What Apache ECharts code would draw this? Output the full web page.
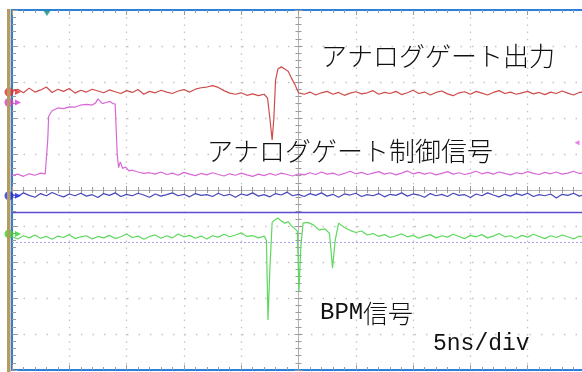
<!DOCTYPE html>
<html><head><meta charset="utf-8">
<script src="https://cdn.jsdelivr.net/npm/echarts@6/dist/echarts.min.js"></script>
<style>html,body{margin:0;padding:0;background:#fff}#c{width:582px;height:372px}</style>
</head><body><div id="c"></div>
<script>
// time in ns (5 ns/div), amplitude in divisions (centre = 0)
const timeRangeNs = [0, 50];
const levelRangeDiv = [-5, 5];
const labels = ['アナログゲート出力', 'アナログゲート制御信号', 'BPM', '信号', '5ns/div'];

const gateOutput = [
 [0,2.74],[0.5,2.80],[1,2.70],[1.5,2.83],[2,2.72],[2.5,2.78],[3,2.86],[3.5,2.71],[4,2.80],[4.5,2.74],
 [5,2.82],[5.5,2.69],[6,2.77],[6.5,2.72],[7,2.80],[7.5,2.75],[8,2.70],[8.5,2.78],[9,2.73],[9.5,2.68],
 [10,2.76],[10.5,2.71],[11,2.79],[11.5,2.66],[12,2.74],[12.5,2.70],[13,2.77],[13.5,2.72],[14,2.68],[14.5,2.75],
 [15,2.79],[15.5,2.72],[16,2.80],[16.5,2.84],[17,2.86],[17.5,2.90],[18,2.85],[18.5,2.76],[19,2.69],[19.5,2.66],
 [20,2.70],[20.5,2.63],[21,2.67],[21.5,2.62],[22,2.66],[22.3,2.55],[22.5,2.0],[22.7,1.39],[22.85,2.0],[23.0,3.05],
 [23.2,3.36],[23.5,3.42],[23.8,3.36],[24.1,3.30],[24.4,3.10],[24.7,2.92],[25.0,2.70],[25.5,2.66],[26,2.72],[26.5,2.64],
 [27,2.70],[27.5,2.74],[28,2.66],[28.5,2.71],[29,2.63],[29.5,2.69],[30,2.73],[30.5,2.67],[31,2.70],[31.5,2.76],
 [32,2.66],[32.5,2.71],[33,2.68],[33.5,2.74],[34,2.65],[34.5,2.70],[35,2.77],[35.5,2.68],[36,2.72],[36.5,2.64],
 [37,2.71],[37.5,2.75],[38,2.67],[38.5,2.62],[39,2.70],[39.5,2.73],[40,2.66],[40.5,2.74],[41,2.69],[41.5,2.64],
 [42,2.71],[42.5,2.76],[43,2.68],[43.5,2.72],[44,2.66],[44.5,2.70],[45,2.74],[45.5,2.67],[46,2.71],[46.5,2.65],
 [47,2.72],[47.5,2.68],[48,2.75],[48.5,2.69],[49,2.64],[49.5,2.71],[50,2.73]
];

const gateControl = [
 [0,0.40],[0.5,0.44],[1,0.38],[1.5,0.45],[2,0.41],[2.5,0.47],[2.9,0.45],[3.05,0.5],[3.12,1.4],[3.2,2.05],
 [3.5,2.20],[4,2.28],[4.5,2.26],[5,2.31],[5.5,2.30],[6,2.36],[6.5,2.38],[7,2.36],[7.3,2.42],[7.5,2.53],
 [7.7,2.46],[7.9,2.40],[8.2,2.43],[8.55,2.46],[8.8,2.40],[9.0,2.39],[9.1,2.38],[9.18,1.0],[9.3,0.62],[9.45,0.78],
 [9.65,0.60],[9.9,0.64],[10.2,0.53],[10.5,0.55],[11,0.50],[11.5,0.46],[12,0.48],[12.5,0.44],[13,0.50],[13.5,0.43],
 [14,0.47],[14.5,0.41],[15,0.49],[15.5,0.44],[16,0.40],[16.5,0.46],[17,0.42],[17.5,0.48],[18,0.43],[18.5,0.39],
 [19,0.45],[19.5,0.41],[20,0.47],[20.5,0.42],[21,0.38],[21.5,0.44],[22,0.40],[22.5,0.46],[23,0.41],[23.5,0.47],
 [24,0.43],[24.5,0.39],[25,0.45],[25.5,0.42],[26,0.48],[26.5,0.43],[27,0.50],[27.5,0.44],[28,0.47],[28.5,0.41],
 [29,0.46],[29.5,0.52],[30,0.45],[30.5,0.49],[31,0.43],[31.5,0.47],[32,0.51],[32.5,0.44],[33,0.48],[33.5,0.42],
 [34,0.47],[34.5,0.53],[35,0.45],[35.5,0.49],[36,0.44],[36.5,0.48],[37,0.42],[37.5,0.46],[38,0.51],[38.5,0.44],
 [39,0.48],[39.5,0.43],[40,0.47],[40.5,0.52],[41,0.45],[41.5,0.49],[42,0.44],[42.5,0.50],[43,0.46],[43.5,0.42],
 [44,0.48],[44.5,0.45],[45,0.51],[45.5,0.46],[46,0.43],[46.5,0.49],[47,0.45],[47.5,0.50],[48,0.44],[48.5,0.47],
 [49,0.52],[49.5,0.46],[50,0.48]
];

const channel3 = [
 [0,-0.12],[0.5,-0.18],[1,-0.08],[1.5,-0.15],[2,-0.20],[2.5,-0.10],[3,-0.16],[3.5,-0.07],[4,-0.14],[4.5,-0.19],
 [5,-0.11],[5.5,-0.16],[6,-0.09],[6.5,-0.17],[7,-0.13],[7.5,-0.21],[8,-0.10],[8.5,-0.15],[9,-0.08],[9.5,-0.18],
 [10,-0.12],[10.5,-0.16],[11,-0.09],[11.5,-0.14],[12,-0.20],[12.5,-0.11],[13,-0.17],[13.5,-0.13],[14,-0.08],[14.5,-0.16],
 [15,-0.12],[15.5,-0.19],[16,-0.10],[16.5,-0.15],[17,-0.13],[17.5,-0.18],[18,-0.09],[18.5,-0.16],[19,-0.12],[19.5,-0.20],
 [20,-0.11],[20.5,-0.15],[21,-0.08],[21.5,-0.17],[22,-0.13],[22.5,-0.19],[23,-0.10],[23.5,-0.14],[24,-0.06],[24.5,-0.16],
 [25,-0.12],[25.5,-0.18],[26,-0.10],[26.5,-0.15],[27,-0.08],[27.5,-0.17],[28,-0.12],[28.5,-0.20],[29,-0.11],[29.5,-0.14],
 [30,-0.09],[30.5,-0.18],[31,-0.13],[31.5,-0.16],[32,-0.10],[32.5,-0.19],[33,-0.12],[33.5,-0.15],[34,-0.08],[34.5,-0.17],
 [35,-0.11],[35.5,-0.14],[36,-0.20],[36.5,-0.10],[37,-0.16],[37.5,-0.12],[38,-0.18],[38.5,-0.09],[39,-0.15],[39.5,-0.13],
 [40,-0.21],[40.5,-0.11],[41,-0.16],[41.5,-0.08],[42,-0.14],[42.5,-0.19],[43,-0.12],[43.5,-0.17],[44,-0.10],[44.5,-0.15],
 [45,-0.09],[45.5,-0.18],[46,-0.13],[46.5,-0.16],[47,-0.11],[47.5,-0.22],[48,-0.12],[48.5,-0.15],[49,-0.09],[49.5,-0.17],
 [50,-0.13]
];

const bpmSignal = [
 [0,-1.30],[0.5,-1.36],[1,-1.27],[1.5,-1.33],[2,-1.25],[2.5,-1.34],[3,-1.29],[3.5,-1.37],[4,-1.28],[4.5,-1.32],
 [5,-1.24],[5.5,-1.35],[6,-1.30],[6.5,-1.27],[7,-1.36],[7.5,-1.29],[8,-1.33],[8.5,-1.26],[9,-1.35],[9.5,-1.30],
 [10,-1.22],[10.5,-1.32],[11,-1.28],[11.5,-1.37],[12,-1.29],[12.5,-1.25],[13,-1.34],[13.5,-1.27],[14,-1.33],[14.5,-1.22],
 [15,-1.30],[15.5,-1.26],[16,-1.34],[16.5,-1.28],[17,-1.36],[17.5,-1.27],[18,-1.31],[18.5,-1.23],[19,-1.30],[19.5,-1.25],
 [20,-1.19],[20.5,-1.29],[21,-1.27],[21.5,-1.33],[22,-1.28],[22.2,-1.40],[22.34,-3.61],[22.5,-2.2],[22.7,-0.9],[22.9,-0.84],
 [23.2,-0.78],[23.5,-0.86],[23.8,-0.92],[24.1,-0.88],[24.4,-1.00],[24.7,-1.08],[24.9,-1.15],[25.04,-2.81],[25.2,-1.6],[25.4,-0.92],
 [25.8,-0.90],[26.3,-0.97],[26.8,-1.11],[27.3,-1.08],[27.7,-1.20],[27.97,-2.17],[28.2,-1.40],[28.5,-0.92],[29,-1.04],[29.5,-1.12],
 [30,-1.18],[30.5,-1.14],[31,-1.25],[31.5,-1.21],[32,-1.29],[32.5,-1.24],[33,-1.32],[33.5,-1.27],[34,-1.22],[34.5,-1.30],
 [35,-1.26],[35.5,-1.34],[36,-1.28],[36.5,-1.24],[37,-1.33],[37.5,-1.27],[38,-1.31],[38.5,-1.23],[39,-1.29],[39.5,-1.35],
 [40,-1.26],[40.5,-1.30],[41,-1.24],[41.5,-1.33],[42,-1.28],[42.5,-1.21],[43,-1.30],[43.5,-1.27],[44,-1.34],[44.5,-1.26],
 [45,-1.31],[45.5,-1.23],[46,-1.29],[46.5,-1.35],[47,-1.27],[47.5,-1.32],[48,-1.25],[48.5,-1.30],[49,-1.36],[49.5,-1.28],
 [50,-1.31]
];

// channel ground markers (left edge) and other scope markers
const channelMarkerLevels = [2.72, 2.43, -0.16, -1.22];
const channelColors = ['#e8282a', '#d836d8', '#1a2ae8', '#26d826'];
const traceColors = ['#cf4c4c', '#d868d8', '#4848b8', '#5ed85e'];
const cursorLevels = [-0.61, -1.44];
const triggerTimeNs = 3.05;
const triggerLevelDiv = 1.31;

const chart = echarts.init(document.getElementById('c'), null, {renderer: 'canvas'});

const tickGray = '#9a9a9a';
const blueEdge = '#2b7fdd';
const JP = '"Noto Sans CJK JP"';

function baseAxis(extra) {
  return Object.assign({
    type: 'value', min: 0, max: 50, interval: 5,
    axisLabel: {show: false},
    splitLine: {show: false},
    minorSplitLine: {show: false},
  }, extra);
}
function baseY(extra) {
  return Object.assign({
    type: 'value', min: -5, max: 5, interval: 1,
    axisLabel: {show: false},
    splitLine: {show: false},
    minorSplitLine: {show: false},
  }, extra);
}

const xAxes = [
  baseAxis({position: 'bottom', axisLine: {show: true, onZero: false, lineStyle: {color: blueEdge, width: 2}},
    axisTick: {show: true, inside: true, length: 5, lineStyle: {color: tickGray}},
    minorTick: {show: true, splitNumber: 5, length: 3, lineStyle: {color: tickGray}},
    splitLine: {show: true, lineStyle: {color: '#c4c4c4', width: 1.3, type: [1.5, 5.7]}}}),
  baseAxis({position: 'top', axisLine: {show: true, onZero: false, lineStyle: {color: blueEdge, width: 2}},
    axisTick: {show: true, inside: true, length: 5, lineStyle: {color: tickGray}},
    minorTick: {show: true, splitNumber: 5, length: 3, lineStyle: {color: tickGray}}}),
  baseAxis({position: 'bottom', offset: -180, axisLine: {show: true, onZero: false, lineStyle: {color: '#b4b4b4', width: 1}},
    axisTick: {show: true, inside: true, length: 4, lineStyle: {color: tickGray}},
    minorTick: {show: true, splitNumber: 5, length: 3, lineStyle: {color: tickGray}}}),
  baseAxis({position: 'bottom', offset: -180, axisLine: {show: false, onZero: false},
    axisTick: {show: true, inside: false, length: 4, lineStyle: {color: tickGray}},
    minorTick: {show: true, splitNumber: 5, length: 3, lineStyle: {color: tickGray}}})
];
const yAxes = [
  baseY({position: 'left', axisLine: {show: true, onZero: false, lineStyle: {color: blueEdge, width: 2}},
    axisTick: {show: true, inside: true, length: 6, lineStyle: {color: tickGray}},
    minorTick: {show: true, splitNumber: 5, length: 4, lineStyle: {color: tickGray}},
    splitLine: {show: true, lineStyle: {color: '#c4c4c4', width: 1.3, type: [1.5, 10]}}}),
  baseY({position: 'left', offset: -286.5, axisLine: {show: true, onZero: false, lineStyle: {color: '#b4b4b4', width: 1}},
    axisTick: {show: true, inside: true, length: 4, lineStyle: {color: tickGray}},
    minorTick: {show: true, splitNumber: 5, length: 3, lineStyle: {color: tickGray}}}),
  baseY({position: 'left', offset: -286.5, axisLine: {show: false, onZero: false},
    axisTick: {show: true, inside: false, length: 4, lineStyle: {color: tickGray}},
    minorTick: {show: true, splitNumber: 5, length: 3, lineStyle: {color: tickGray}}})
];

function trace(data, color) {
  return {type: 'line', data: data, xAxisIndex: 0, yAxisIndex: 0, showSymbol: false, symbol: 'none',
    silent: true, animation: false, clip: true,
    lineStyle: {color: color, width: 1.2}, z: 3};
}

const traces = [gateOutput, gateControl, channel3, bpmSignal];
const series = traces.map((d, i) => trace(d, traceColors[i]));
series[2].markLine = {
  silent: true, symbol: ['none', 'none'], label: {show: false}, animation: false,
  data: [
    {yAxis: cursorLevels[0], lineStyle: {color: '#5a4ccc', width: 1.4, type: 'solid'}},
    {yAxis: cursorLevels[1], lineStyle: {color: '#a6a0e8', width: 1, type: [2, 2]}}
  ]
};

// channel ground markers: circle + arrow
channelMarkerLevels.forEach((lv, i) => {
  series.push({type: 'scatter', data: [[timeRangeNs[0], lv]], symbol: 'circle', symbolSize: 9,
    symbolOffset: [-3, 0], clip: false, silent: true, animation: false, z: 6,
    itemStyle: {color: channelColors[i]}});
  series.push({type: 'scatter', data: [[timeRangeNs[0], lv]], symbol: 'triangle', symbolSize: [6, 6],
    symbolRotate: -90, symbolOffset: [6, 0], clip: false, silent: true, animation: false, z: 6,
    itemStyle: {color: channelColors[i]}});
});
// trigger position (top) and trigger level (right)
series.push({type: 'scatter', data: [[triggerTimeNs, levelRangeDiv[1]]], symbol: 'triangle', symbolSize: [8, 6],
  symbolRotate: 180, symbolOffset: [0, 3], clip: false, silent: true, animation: false, z: 6,
  itemStyle: {color: '#178f8c'}});
series.push({type: 'scatter', data: [[timeRangeNs[1], triggerLevelDiv]], symbol: 'triangle', symbolSize: [5, 5],
  symbolRotate: 90, symbolOffset: [-8, 0], clip: false, silent: true, animation: false, z: 6,
  itemStyle: {color: '#e060e0'}});

chart.setOption({
  animation: false,
  backgroundColor: '#ffffff',
  grid: {left: 12, top: 10, right: -3, bottom: 2, containLabel: false, outerBoundsMode: 'none'},
  xAxis: xAxes,
  yAxis: yAxes,
  series: series,
  graphic: [
    {type: 'rect', left: 7, top: 9, shape: {width: 3.5, height: 363}, style: {fill: '#b59b5e'}, z: 10},
    {type: 'text', x: 321, y: 56, z: 20, style: {text: labels[0], fill: '#111', fontFamily: JP, fontSize: 26, fontWeight: 300, textVerticalAlign: 'middle'}},
    {type: 'text', x: 207, y: 151, z: 20, style: {text: labels[1], fill: '#111', fontFamily: JP, fontSize: 26, fontWeight: 300, textVerticalAlign: 'middle'}},
    {type: 'text', x: 320, y: 313, z: 20, style: {text: labels[2], fill: '#111', fontFamily: '"Liberation Mono"', fontSize: 24, textVerticalAlign: 'middle'}},
    {type: 'text', x: 363, y: 313, z: 20, style: {text: labels[3], fill: '#111', fontFamily: JP, fontSize: 25, fontWeight: 300, textVerticalAlign: 'middle'}},
    {type: 'text', x: 433, y: 344, z: 20, style: {text: labels[4], fill: '#111', fontFamily: '"Liberation Mono"', fontSize: 23, textVerticalAlign: 'middle'}}
  ]
});
</script></body></html>
